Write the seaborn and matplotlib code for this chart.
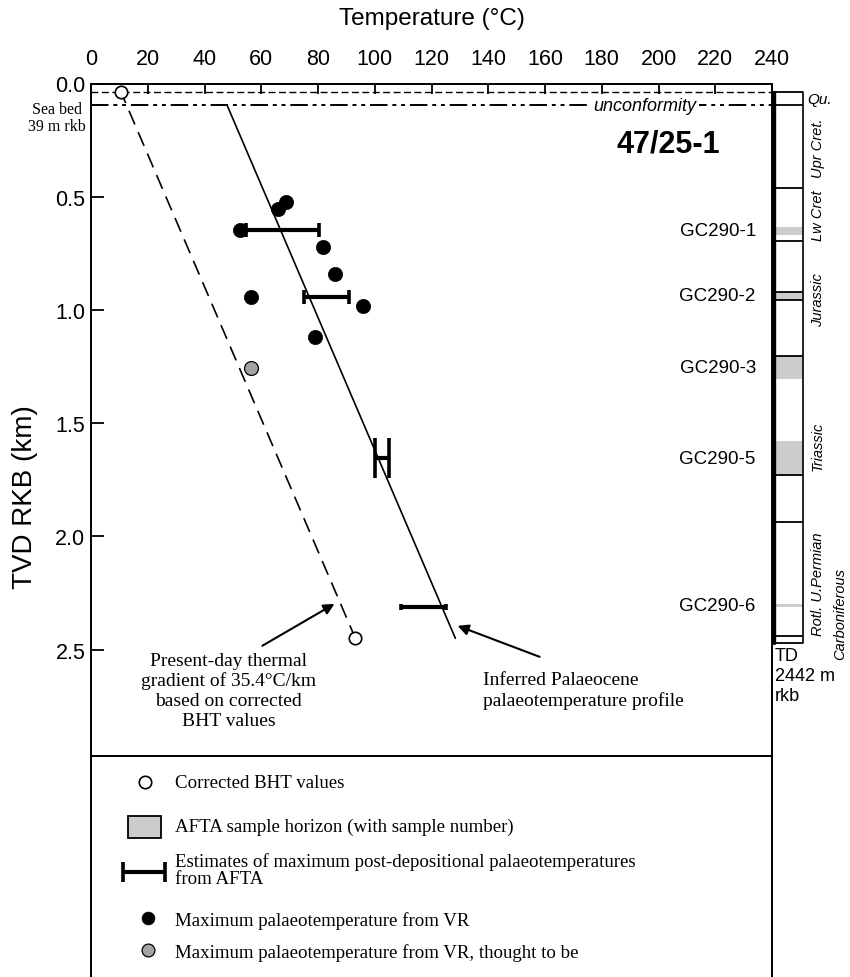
import matplotlib
matplotlib.use("Agg")
import matplotlib.pyplot as plt
from matplotlib.patches import Rectangle
import seaborn as sns

# ---------------- data (temperature in °C, depth in km RKB) ----------------
bht_temp = [10.6, 93.1]
bht_depth = [0.039, 2.448]

vr_temp = [68.7, 65.8, 52.5, 81.9, 86.1, 56.5, 95.8, 79.1]
vr_depth = [0.523, 0.553, 0.649, 0.724, 0.842, 0.941, 0.981, 1.118]

vr_suspect_temp = [56.5]
vr_suspect_depth = [1.258]

afta_min = [54.6, 75.2, 100.1, 109.3]
afta_max = [80.2, 90.8, 104.9, 125.0]
afta_depth = [0.649, 0.944, 1.655, 2.311]
afta_cap = [5, 5, 14.5, 2]

palaeo_temp = [48.0, 128.4]
palaeo_depth = [0.097, 2.45]

seabed_depth = 0.039
unconformity_depth = 0.097

# stratigraphic column
strat_lines = [0.039, 0.097, 0.46, 0.695, 0.92, 0.956, 1.204, 1.73, 1.938, 2.442, 2.47]
strat_names = ["Upr Cret.", "Lw Cret", "Jurassic", "Triassic", "Rotl. U.Permian"]
strat_label_depth = [0.28, 0.578, 0.95, 1.60, 2.205]

sample_names = ["GC290-1", "GC290-2", "GC290-3", "GC290-5", "GC290-6"]
sample_top = [0.633, 0.920, 1.204, 1.580, 2.300]
sample_base = [0.668, 0.956, 1.305, 1.730, 2.314]

temp_ticks = list(range(0, 241, 20))
depth_ticks = [0.0, 0.5, 1.0, 1.5, 2.0, 2.5]

# ---------------- style ----------------
sns.set_theme(style="ticks")
plt.rcParams["font.family"] = ["Liberation Sans", "DejaVu Sans"]
plt.rcParams.update({
    "text.color": "black",
    "axes.labelcolor": "black",
    "axes.edgecolor": "black",
    "xtick.color": "black",
    "ytick.color": "black",
})
SERIF = ["Liberation Serif", "DejaVu Serif"]

W, H = 850, 978


def box(x0, y0, x1, y1):
    return [x0 / W, 1 - y1 / H, (x1 - x0) / W, (y1 - y0) / H]


fig = plt.figure(figsize=(W / 100, H / 100), dpi=100)

# ---------------- main temperature-depth panel ----------------
ax = fig.add_axes(box(91, 84.5, 772, 757))
ax.set_xlim(0, 240)
ax.set_ylim(2.97, 0)
ax.grid(False)
ax.xaxis.tick_top()
ax.set_xticks(temp_ticks)
ax.set_yticks(depth_ticks)
ax.set_yticklabels([f"{d:.1f}" for d in depth_ticks])
ax.tick_params(axis="x", direction="in", length=7.5, width=1.3, pad=10.5,
               labelsize=15.5, top=True, bottom=False, colors="black")
ax.tick_params(axis="y", direction="in", length=9, width=1.3, pad=4,
               labelsize=15.5, colors="black")
for s in ax.spines.values():
    s.set_visible(True)
    s.set_linewidth(1.4)
    s.set_color("black")

ax.set_xlabel("Temperature (°C)", fontsize=17.5)
ax.xaxis.set_label_position("top")
ax.xaxis.set_label_coords(0.5, (757 - 19) / 672.5)
ax.xaxis.label.set_va("center")
ax.set_ylabel("TVD RKB (km)", fontsize=20)
ax.yaxis.set_label_coords((25 - 91) / 681, (757 - 497) / 672.5)
ax.yaxis.label.set_va("center")

# sea bed and unconformity
ax.axhline(seabed_depth, color="black", lw=1.0, ls=(0, (5, 2.5)), zorder=2)
ax.axhline(unconformity_depth, color="black", lw=1.4,
           ls=(0, (9, 2.5, 2, 2.5, 2, 2.5)), zorder=2)
ax.text(195.2, unconformity_depth, "unconformity", style="italic", fontsize=13,
        ha="center", va="center", zorder=3,
        bbox=dict(facecolor="white", edgecolor="none", pad=1.5))

# present-day gradient and palaeotemperature profile
sns.lineplot(x=bht_temp, y=bht_depth, ax=ax, color="black", lw=1.2,
             linestyle=(2, (9, 5)), sort=False, estimator=None, zorder=3)
sns.lineplot(x=palaeo_temp, y=palaeo_depth, ax=ax, color="black", lw=1.2,
             sort=False, estimator=None, zorder=3)

# AFTA palaeotemperature ranges
for lo, hi, d, cap in zip(afta_min, afta_max, afta_depth, afta_cap):
    mid = (lo + hi) / 2
    ax.errorbar(x=mid, y=d, xerr=[[mid - lo], [hi - mid]], fmt="none",
                ecolor="black", elinewidth=3, capsize=cap, capthick=2.6, zorder=4)

# vitrinite reflectance and BHT points
sns.scatterplot(x=vr_temp, y=vr_depth, ax=ax, color="black", s=105,
                edgecolor="black", linewidth=0.5, zorder=5)
sns.scatterplot(x=vr_suspect_temp, y=vr_suspect_depth, ax=ax, color="#a3a3a3",
                s=100, edgecolor="black", linewidth=0.9, zorder=5)
sns.scatterplot(x=bht_temp, y=bht_depth, ax=ax, color="white", s=80,
                edgecolor="black", linewidth=1.2, zorder=6)

# well name and sample labels
ax.text(203.3, 0.263, "47/25-1", fontsize=22, weight="bold",
        ha="center", va="center")
for name, t, b in zip(sample_names, sample_top, sample_base):
    ax.text(234.3, (t + b) / 2, name, fontsize=13.5, ha="right", va="center")

# annotations
ax.text(48.4, 2.51,
        "Present-day thermal\ngradient of 35.4°C/km\nbased on corrected\nBHT values",
        family=SERIF, fontsize=14, ha="center", va="top", linespacing=1.2)
ax.annotate("", xy=(85.8, 2.298), xytext=(60.4, 2.483),
            arrowprops=dict(arrowstyle="-|>", color="black", lw=1.5,
                            mutation_scale=16, shrinkA=0, shrinkB=0))
ax.text(138.0, 2.595, "Inferred Palaeocene\npalaeotemperature profile",
        family=SERIF, fontsize=14, ha="left", va="top", linespacing=1.2)
ax.annotate("", xy=(129.2, 2.395), xytext=(158.1, 2.532),
            arrowprops=dict(arrowstyle="-|>", color="black", lw=1.5,
                            mutation_scale=16, shrinkA=0, shrinkB=0))

fig.text(57 / W, 1 - 118.5 / H, "Sea bed\n39 m rkb", family=SERIF, fontsize=11.5,
         ha="center", va="center", linespacing=1.15)

# ---------------- stratigraphic column ----------------
axc = fig.add_axes(box(772, 84.5, 850, 757))
axc.set_xlim(772, 850)
axc.set_ylim(2.97, 0)
axc.axis("off")
for t, b in zip(sample_top, sample_base):
    axc.add_patch(Rectangle((773, t), 30, b - t, facecolor="#cccccc",
                            edgecolor="none"))
for d in strat_lines:
    axc.plot([773, 803], [d, d], color="black", lw=1.3, solid_capstyle="butt")
axc.plot([773.5, 773.5], [strat_lines[0], strat_lines[-1]], color="black", lw=2.4)
axc.plot([803, 803], [strat_lines[0], strat_lines[-1]], color="black", lw=1.2)

axc.text(807, (strat_lines[0] + strat_lines[1]) / 2, "Qu.", style="italic",
         fontsize=11, ha="left", va="center", clip_on=False)
for name, d in zip(strat_names, strat_label_depth):
    axc.text(818, d, name, rotation=90, style="italic", fontsize=10.5,
             ha="center", va="center", clip_on=False)
axc.text(840, 2.34, "Carboniferous", rotation=90, style="italic", fontsize=10.5,
         ha="center", va="center", clip_on=False)
axc.text(775, 2.49, "TD\n2442 m\nrkb", fontsize=13, ha="left", va="top",
         linespacing=1.2, clip_on=False)

# ---------------- key ----------------
axl = fig.add_axes(box(91, 757, 772, 978))
axl.set_xlim(91, 772)
axl.set_ylim(978, 757)
axl.set_xticks([])
axl.set_yticks([])
for side, s in axl.spines.items():
    s.set_linewidth(1.4)
    s.set_color("black")
    s.set_visible(side != "bottom")

sns.scatterplot(x=[145], y=[783], ax=axl, color="white", s=80,
                edgecolor="black", linewidth=1.2)
axl.add_patch(Rectangle((128, 817), 33, 22, facecolor="#cccccc",
                        edgecolor="black", lw=1.3))
axl.errorbar(x=144, y=873, xerr=21, fmt="none", ecolor="black", elinewidth=3,
             capsize=7, capthick=2.6)
sns.scatterplot(x=[148], y=[919], ax=axl, color="black", s=85,
                edgecolor="black", linewidth=0.5)
sns.scatterplot(x=[148], y=[951], ax=axl, color="#a3a3a3", s=85,
                edgecolor="black", linewidth=0.9)

key_text = [
    (783, "Corrected BHT values"),
    (827, "AFTA sample horizon (with sample number)"),
    (871, "Estimates of maximum post-depositional palaeotemperatures\nfrom AFTA"),
    (921, "Maximum palaeotemperature from VR"),
    (953, "Maximum palaeotemperature from VR, thought to be"),
]
for y, txt in key_text:
    axl.text(175, y, txt, family=SERIF, fontsize=13.6, ha="left", va="center",
             linespacing=1.0)

fig.savefig("out.png", dpi=100)
